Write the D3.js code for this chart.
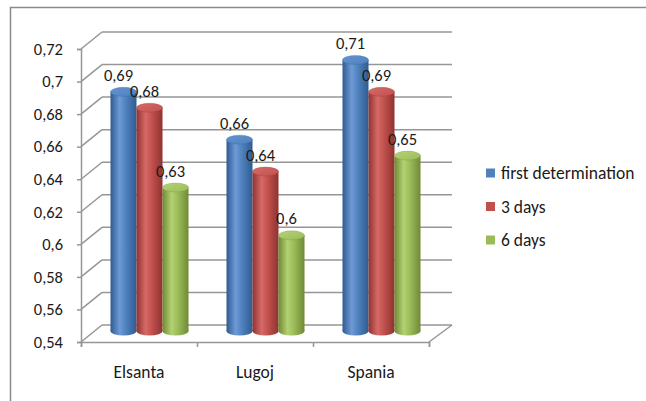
<!DOCTYPE html>
<html>
<head>
<meta charset="utf-8">
<script src="https://cdn.jsdelivr.net/npm/d3@7"></script>
<style>
  body { margin: 0; background: #fff; }
  svg { display: block; font-family: Carlito, Lato, sans-serif; }
</style>
</head>
<body>
<div id="chart"></div>
<script>
const categories = ['Elsanta', 'Lugoj', 'Spania'];
const seriesNames = ['first determination', '3 days', '6 days'];
const firstDetermination = [0.69, 0.66, 0.71];
const threeDays = [0.68, 0.64, 0.69];
const sixDays = [0.63, 0.6, 0.65];
const yTicks = [0.54, 0.56, 0.58, 0.6, 0.62, 0.64, 0.66, 0.68, 0.7, 0.72];

const seriesValues = [firstDetermination, threeDays, sixDays];
const colors = [
  { dark: '#2f5b92', mid: '#4f81bd', light: '#6d9ad6', top: '#6394d2' },
  { dark: '#8f3330', mid: '#c0504d', light: '#d66a67', top: '#d66c69' },
  { dark: '#6f8a35', mid: '#9bbb59', light: '#b3d173', top: '#b5d375' }
];

const w = 646;
const h = 401;
const depthX = 21;
const depthY = -17;
const numSize = 16.5;
const wordSize = 17.5;

const svg = d3.select('#chart')
  .append('svg')
  .attr('width', w)
  .attr('height', h);

const defs = svg.append('defs');
colors.forEach((c, i) => {
  const g = defs.append('linearGradient').attr('id', 'body' + i)
    .attr('x1', '0%').attr('x2', '100%').attr('y1', '0%').attr('y2', '0%');
  g.append('stop').attr('offset', '0%').attr('stop-color', c.dark);
  g.append('stop').attr('offset', '35%').attr('stop-color', c.light);
  g.append('stop').attr('offset', '60%').attr('stop-color', c.mid);
  g.append('stop').attr('offset', '100%').attr('stop-color', c.dark);
  const t = defs.append('linearGradient').attr('id', 'top' + i)
    .attr('x1', '0%').attr('x2', '100%').attr('y1', '0%').attr('y2', '100%');
  t.append('stop').attr('offset', '0%').attr('stop-color', c.top);
  t.append('stop').attr('offset', '100%').attr('stop-color', c.mid);
});

// outer frame (cut by the window on right/bottom)
svg.append('rect')
  .attr('x', 10.5).attr('y', 7.5)
  .attr('width', 700).attr('height', 500)
  .attr('fill', 'none')
  .attr('stroke', '#8a8a8a')
  .attr('stroke-width', 1.5);

// scales
const xScale = d3.scaleBand()
  .domain(categories)
  .range([81, 429]);
const yFront = d3.scaleLinear()
  .domain([0.54, 0.72])
  .range([342, 49]);
const yBar = d3.scaleLinear()
  .domain([0.54, 0.72])
  .range([331, 44]);
const xSeries = d3.scaleBand()
  .domain(seriesNames)
  .range([-39, 39]);

const gridColor = '#969696';

// walls: side diagonals + back gridlines
const grid = svg.append('g');
grid.selectAll('line.diag')
  .data(yTicks)
  .enter()
  .append('line')
  .attr('x1', 81)
  .attr('y1', (d) => yFront(d))
  .attr('x2', 81 + depthX)
  .attr('y2', (d) => yFront(d) + depthY)
  .attr('stroke', gridColor)
  .attr('stroke-width', 1.5);
grid.selectAll('line.back')
  .data(yTicks)
  .enter()
  .append('line')
  .attr('x1', 81 + depthX)
  .attr('y1', (d) => yFront(d) + depthY)
  .attr('x2', 429 + depthX + 2)
  .attr('y2', (d) => yFront(d) + depthY)
  .attr('stroke', gridColor)
  .attr('stroke-width', 1.5);

// floor right edge
grid.append('line')
  .attr('x1', 429).attr('y1', yFront(0.54))
  .attr('x2', 429 + depthX + 2).attr('y2', yFront(0.54) + depthY)
  .attr('stroke', gridColor).attr('stroke-width', 1.5);

// y axis
const yAxis = d3.axisLeft(yFront)
  .tickValues(yTicks)
  .tickSize(4)
  .tickPadding(14)
  .tickFormat((d) => d3.format('.2~f')(d).replace('.', ','));
const yG = svg.append('g')
  .attr('transform', 'translate(81,0)')
  .call(yAxis);
yG.select('.domain').attr('stroke', gridColor).attr('stroke-width', 1.5);
yG.selectAll('.tick line').attr('stroke', gridColor).attr('stroke-width', 1.5);
yG.selectAll('.tick text')
  .attr('font-size', numSize)
  .attr('font-family', 'Carlito, Lato, sans-serif')
  .attr('fill', '#1a1a1a');

// x axis
const xAxis = d3.axisBottom(d3.scaleLinear().domain([0, 3]).range([81, 429]))
  .tickValues([0, 1, 2, 3])
  .tickSize(5)
  .tickFormat('');
const xG = svg.append('g')
  .attr('transform', `translate(0,${yFront(0.54)})`)
  .call(xAxis);
xG.select('.domain').attr('stroke', gridColor).attr('stroke-width', 1.5);
xG.selectAll('.tick line').attr('stroke', gridColor).attr('stroke-width', 1.5);

svg.append('g')
  .selectAll('text')
  .data(categories)
  .enter()
  .append('text')
  .attr('x', (d) => xScale(d) + xScale.bandwidth() / 2)
  .attr('y', 378)
  .attr('text-anchor', 'middle')
  .attr('font-size', wordSize)
  .attr('fill', '#1a1a1a')
  .text((d) => d);

// cylinders
const bars = [];
categories.forEach((c, ci) => {
  seriesNames.forEach((s, si) => {
    bars.push({ cat: c, series: s, si: si, value: seriesValues[si][ci] });
  });
});

const rx = xSeries.bandwidth() / 2;
const ry = 4.5;
const cx = (d) => xScale(d.cat) + xScale.bandwidth() / 2 + depthX / 2 + xSeries(d.series) + rx;

const barG = svg.append('g')
  .selectAll('g')
  .data(bars)
  .enter()
  .append('g');
barG.append('ellipse')
  .attr('cx', cx)
  .attr('cy', yBar(0.54))
  .attr('rx', rx)
  .attr('ry', ry)
  .attr('fill', (d) => `url(#body${d.si})`);
barG.append('rect')
  .attr('x', (d) => cx(d) - rx)
  .attr('y', (d) => yBar(d.value))
  .attr('width', rx * 2)
  .attr('height', (d) => yBar(0.54) - yBar(d.value))
  .attr('fill', (d) => `url(#body${d.si})`);
barG.append('ellipse')
  .attr('cx', cx)
  .attr('cy', (d) => yBar(d.value))
  .attr('rx', rx)
  .attr('ry', ry)
  .attr('fill', (d) => `url(#top${d.si})`)
  .attr('stroke', (d) => colors[d.si].dark)
  .attr('stroke-opacity', 0.35)
  .attr('stroke-width', 0.8);

// value labels
svg.append('g')
  .selectAll('text')
  .data(bars)
  .enter()
  .append('text')
  .attr('x', (d) => cx(d) - 5)
  .attr('y', (d) => yBar(d.value) - 11)
  .attr('text-anchor', 'middle')
  .attr('font-size', numSize)
  .attr('fill', '#1a1a1a')
  .text((d) => String(d.value).replace('.', ','));

// legend
const legend = svg.append('g')
  .selectAll('g')
  .data(seriesNames)
  .enter()
  .append('g')
  .attr('transform', (d, i) => `translate(486,${173 + i * 33.5})`);
legend.append('rect')
  .attr('x', 0)
  .attr('y', -4.5)
  .attr('width', 9)
  .attr('height', 9)
  .attr('fill', (d, i) => colors[i].mid);
legend.append('text')
  .attr('x', 15)
  .attr('y', 6)
  .attr('font-size', wordSize)
  .attr('fill', '#1a1a1a')
  .text((d) => d);
</script>
</body>
</html>
